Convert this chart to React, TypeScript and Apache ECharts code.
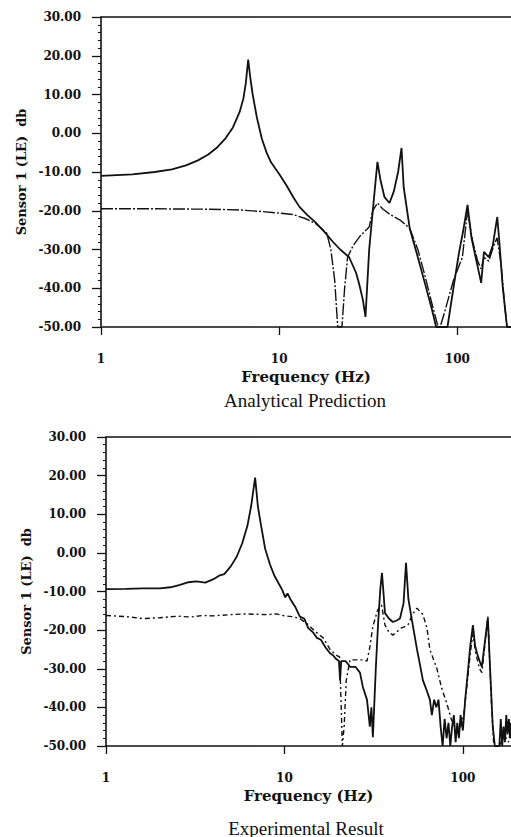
import React, { useEffect, useRef } from "react";
import * as echarts from "echarts";

// ---- Data (frequency Hz, response dB) ----
const yTicks = { min: -50, max: 30, step: 10 };
const xRangeTop = [1, 200];
const xRangeBottom = [1, 186];

const analyticalSolid: [number, number][] = [
  [1, -11], [1.5, -10.6], [2, -10], [2.5, -9.3], [3, -8.3], [3.5, -7.0], [4, -5.5],
  [4.5, -3.6], [5, -1.3], [5.5, 1.5], [6, 5.5], [6.3, 9], [6.5, 13], [6.7, 19],
  [6.9, 14], [7.1, 10], [7.5, 4], [8, -1.5], [8.5, -5], [9, -7.5], [10, -10.5],
  [11, -13.5], [12, -16.5], [13, -19], [14.3, -21], [16, -23], [18, -25.5], [20, -28],
  [22, -30], [24.7, -32], [27, -36], [28, -38.6], [29.5, -43], [30.5, -47.4],
  [32, -30], [34, -17], [35.6, -7.4], [37, -12], [39, -16.5], [41.6, -18], [44, -15],
  [46.5, -10], [48.6, -3.8], [50, -14], [54, -24.5], [60, -32], [66, -39], [72, -45.5],
  [76, -50], [88, -50], [95, -40], [102, -31], [108, -25], [114, -18.5], [120, -27],
  [128, -33], [136, -38.6], [141, -30.6], [150, -32], [158, -29], [163, -25],
  [167.5, -21.6], [172, -28], [180, -40], [190, -50], [200, -50],
];

const analyticalDashed: [number, number][] = [
  [1, -19.5], [2, -19.5], [4, -19.6], [6, -19.8], [8, -20.2], [10, -20.6], [12, -21],
  [14, -22], [16, -23.3], [18.5, -25.8], [19.5, -30], [20.5, -38], [21.3, -50],
  [22.5, -50], [23.3, -40], [24.2, -32], [26, -29], [28.5, -26.5], [32, -24.2],
  [33.5, -20], [35.6, -18], [38, -19.5], [42, -21], [48, -22.5], [54, -24.5], [60, -30],
  [66, -37], [72, -44], [78, -50], [80, -50], [85, -46], [95, -38], [106.7, -32],
  [114, -20], [122, -28], [130, -33], [136, -35], [141, -32], [150, -33], [160, -29],
  [167, -27], [175, -33], [185, -45], [190, -50], [200, -50],
];

const experimentalSolid: [number, number][] = [
  [1, -9.4], [1.3, -9.3], [1.6, -9.2], [2, -9.2], [2.3, -8.9], [2.6, -8.3], [2.9, -7.6],
  [3.2, -7.4], [3.6, -7.7], [4.0, -6.8], [4.3, -5.9], [4.6, -5.5], [5.0, -3.5],
  [5.4, -1.0], [5.8, 2.5], [6.2, 7], [6.5, 12], [6.85, 19.5], [7.1, 12], [7.4, 7],
  [7.8, 1], [8.3, -3], [8.8, -6], [9.3, -8], [9.7, -9.5], [10.1, -11.5], [10.4, -10.5],
  [10.8, -12], [11.5, -14], [12.2, -16.5], [12.9, -17], [13.6, -19.5], [14.4, -20.5],
  [15.2, -22], [16, -22.5], [17, -24.5], [18, -26], [18.7, -26.5], [19.5, -27.5],
  [20.2, -28], [20.5, -33], [20.8, -28], [22, -28], [23.3, -29.5], [25, -29.5],
  [26.5, -31], [27.5, -34.7], [29, -38], [30.1, -45], [30.7, -40], [31.3, -47.7],
  [32.5, -30], [33.5, -18], [34.5, -9], [35.2, -5.2], [36.6, -15.6], [38.5, -17],
  [40.5, -17.9], [42.5, -17.5], [44.4, -17], [46.5, -13], [48, -2.6], [49.5, -12],
  [51.8, -17.4], [55.3, -25], [57.5, -29], [59.7, -33], [62, -35], [65.3, -38],
  [67, -42], [69, -38], [71, -40], [73, -38], [75, -45], [77, -50], [79, -43], [81, -48],
  [83, -44], [85, -50], [87, -45], [89, -42], [91, -49], [93, -44], [95, -48], [97, -42],
  [100, -46], [103, -38], [106, -32], [110, -24], [113.8, -18.7], [117, -24], [120, -26],
  [124, -28], [127.7, -29.5], [132, -24], [138, -16.9], [142, -30], [147, -45],
  [151, -50], [160, -50], [163, -43], [166, -50], [169, -45], [172, -49], [175, -42],
  [178, -47], [181, -43], [184, -48], [186, -44],
];

const experimentalDashed: [number, number][] = [
  [1, -16.2], [1.3, -16.5], [1.6, -17], [2, -16.8], [2.5, -16.4], [3, -16.6],
  [3.5, -16.2], [4, -16.3], [5, -16.0], [6, -15.8], [7, -15.9], [8, -16.0], [9, -15.8],
  [10, -16.3], [11, -16.5], [12.2, -17], [13.5, -18.5], [15, -20.5], [16.5, -22],
  [18, -25], [19.5, -26.5], [20.4, -27], [20.8, -40], [21.1, -50], [21.6, -45],
  [22.2, -33], [23.3, -27.7], [25, -27.7], [27.5, -27.7], [29, -28], [30.1, -24.4],
  [31.3, -19], [33.3, -14.8], [35, -13.5], [36.6, -18.7], [38.5, -20.5], [40.5, -21.3],
  [42.5, -20.5], [45, -19.5], [49.2, -18.7], [52, -16], [55.3, -14.3], [59.7, -16],
  [62.9, -19.5], [65.3, -25], [71.5, -30], [76, -35], [81.3, -39], [86, -43],
  [90, -45], [93, -47], [97, -45], [101, -42], [105, -35], [110, -26], [113.8, -21],
  [118, -26], [124, -30], [127.7, -31], [132, -25], [136, -19], [138, -16.5],
  [141, -27], [145, -40], [149, -50], [160, -50], [170, -47], [180, -49], [186, -46],
];

const yAxisTitle = "Sensor 1 (LE)  db";
const xAxisTitle = "Frequency (Hz)";
const captions = ["Analytical Prediction", "Experimental Result"];

const FONT = "DejaVu Serif";
const INK = "#111";

function makeYAxis(gridIndex: number) {
  return {
    type: "value",
    gridIndex,
    min: yTicks.min,
    max: yTicks.max,
    interval: yTicks.step,
    name: yAxisTitle,
    nameLocation: "middle",
    nameGap: 72,
    nameTextStyle: { fontFamily: FONT, fontWeight: "bold", fontSize: 13, color: INK },
    axisLine: { show: true, lineStyle: { color: INK, width: 1.6 } },
    axisTick: { show: true, length: 9, lineStyle: { color: INK, width: 1.3 } },
    minorTick: { show: true, splitNumber: 5, length: 3, lineStyle: { color: INK, width: 1 } },
    axisLabel: {
      margin: 20,
      fontFamily: FONT,
      fontWeight: "bold",
      fontSize: 12,
      color: INK,
      formatter: (v: number) => v.toFixed(2),
    },
    splitLine: { show: false },
  };
}

function makeXAxis(gridIndex: number, range: number[]) {
  return {
    type: "log",
    logBase: 10,
    gridIndex,
    min: range[0],
    max: range[1],
    name: xAxisTitle,
    nameLocation: "middle",
    nameGap: 42,
    nameTextStyle: { fontFamily: FONT, fontWeight: "bold", fontSize: 15, color: INK },
    axisLine: { show: true, onZero: false, lineStyle: { color: INK, width: 1.6 } },
    axisTick: { show: true, length: 8, lineStyle: { color: INK, width: 1.3 } },
    axisLabel: {
      margin: 26,
      fontFamily: FONT,
      fontWeight: "bold",
      fontSize: 12,
      color: INK,
      showMaxLabel: false,
      formatter: (v: number) => String(Math.round(v)),
    },
    splitLine: { show: false },
  };
}

function makeTopBorder(gridIndex: number) {
  return {
    type: "value",
    gridIndex,
    position: "top",
    min: 0,
    max: 1,
    axisLine: { show: true, onZero: false, lineStyle: { color: INK, width: 1.6 } },
    axisTick: { show: false },
    axisLabel: { show: false },
    splitLine: { show: false },
  };
}

function lineSeries(data: [number, number][], axisIndex: number, dashed: boolean, dash?: number[]) {
  return {
    type: "line",
    xAxisIndex: axisIndex,
    yAxisIndex: axisIndex,
    data,
    showSymbol: false,
    symbol: "none",
    lineStyle: {
      color: INK,
      width: dashed ? 1.4 : 1.8,
      type: dashed ? dash : "solid",
    },
    z: dashed ? 2 : 3,
  };
}

export default function App() {
  const ref = useRef<HTMLDivElement>(null);
  useEffect(() => {
    if (!ref.current) return;
    const chart = echarts.init(ref.current, null, { renderer: "svg" });
    chart.setOption({
      animation: false,
      backgroundColor: "#fff",
      grid: [
        { left: 101, top: 17, width: 410, height: 310 },
        { left: 106, top: 437, width: 405, height: 309 },
      ],
      xAxis: [
        makeXAxis(0, xRangeTop),
        makeXAxis(1, xRangeBottom),
        makeTopBorder(0),
        makeTopBorder(1),
      ],
      yAxis: [makeYAxis(0), makeYAxis(1)],
      series: [
        lineSeries(analyticalDashed, 0, true, [12, 2, 2, 2]),
        lineSeries(analyticalSolid, 0, false),
        lineSeries(experimentalDashed, 1, true, [5, 3, 2, 3]),
        lineSeries(experimentalSolid, 1, false),
      ],
      graphic: [
        {
          type: "text",
          x: 305,
          y: 400,
          style: {
            text: captions[0],
            font: "19px 'Liberation Serif'",
            fill: INK,
            align: "center",
            verticalAlign: "middle",
          },
        },
        {
          type: "text",
          x: 306,
          y: 828,
          style: {
            text: captions[1],
            font: "19px 'Liberation Serif'",
            fill: INK,
            align: "center",
            verticalAlign: "middle",
          },
        },
      ],
    });
    return () => chart.dispose();
  }, []);
  return (
    <div
      ref={ref}
      style={{ position: "fixed", left: 0, top: 0, width: 511, height: 837, background: "#fff" }}
    />
  );
}
